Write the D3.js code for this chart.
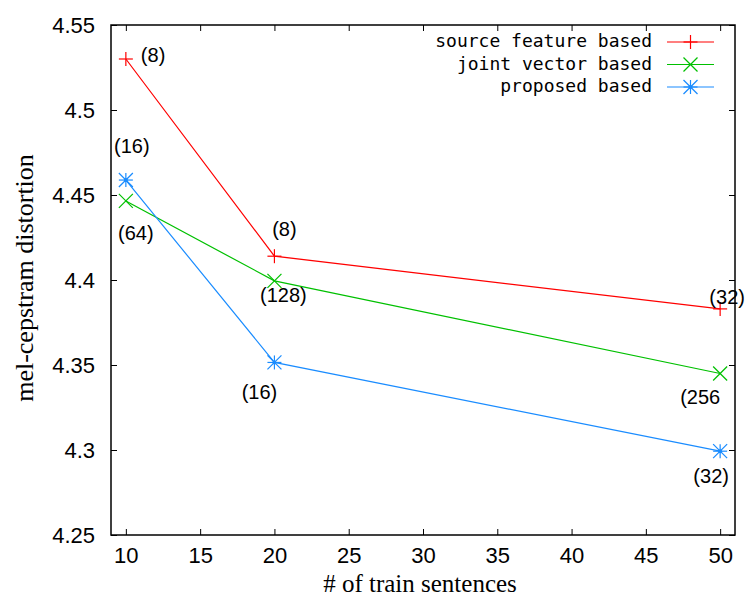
<!DOCTYPE html>
<html>
<head>
<meta charset="utf-8">
<script src="https://cdn.jsdelivr.net/npm/d3@7"></script>
<style>
body { margin: 0; background: #fff; }
.tick text { font-family: "Liberation Sans", Arial, sans-serif; font-size: 22px; fill: #000; }
.axisText { font-family: "Liberation Serif", "Times New Roman", serif; fill: #000; }
.ptLabel { font-family: "Liberation Sans", Arial, sans-serif; font-size: 20px; fill: #000; }
.legendText { font-family: "DejaVu Sans Mono", monospace; font-size: 18px; fill: #000; }
</style>
</head>
<body>
<div id="chart"></div>
<script>
// data
var sentences = [10, 20, 50];
var sourceFeature = [4.530, 4.414, 4.383];
var jointVector = [4.4465, 4.3995, 4.345];
var proposed = [4.4588, 4.3515, 4.2993];
var sourceLabels = ["(8)", "(8)", "(32)"];
var jointLabels = ["(64)", "(128)", "(256"];
var proposedLabels = ["(16)", "(16)", "(32)"];
var seriesNames = ["source feature based", "joint vector based", "proposed based"];
var xTicks = [10, 15, 20, 25, 30, 35, 40, 45, 50];
var yTicks = [4.25, 4.3, 4.35, 4.4, 4.45, 4.5, 4.55];

//define svg
var svgWidth = 750;
var svgHeight = 600;
var margin = { top: 25, right: 15, bottom: 65, left: 111 };
var chartWidth = svgWidth - margin.left - margin.right;
var chartHeight = svgHeight - margin.top - margin.bottom;

var svg = d3.select("#chart")
    .append("svg")
    .attr("width", svgWidth)
    .attr("height", svgHeight);

var chartGroup = svg.append("g")
    .attr("transform", `translate(${margin.left}, ${margin.top})`);

//scales
var xLinearScale = d3.scaleLinear().domain([9, 51]).range([0, chartWidth]);
var yLinearScale = d3.scaleLinear().domain([4.25, 4.55]).range([chartHeight, 0]);

//axes, ticks pointing inward
var bottomAxis = d3.axisBottom(xLinearScale).tickValues(xTicks).tickSize(-6).tickPadding(12).tickFormat(d3.format("d"));
var leftAxis = d3.axisLeft(yLinearScale).tickValues(yTicks).tickSize(-6).tickPadding(16).tickFormat(d => d3.format("")(+d.toFixed(2)));
var topAxis = d3.axisTop(xLinearScale).tickValues(xTicks).tickSize(-6).tickFormat("");
var rightAxis = d3.axisRight(yLinearScale).tickValues(yTicks).tickSize(-6).tickFormat("");

chartGroup.append("g").attr("transform", `translate(0, ${chartHeight})`).call(bottomAxis);
chartGroup.append("g").call(leftAxis);
chartGroup.append("g").call(topAxis).selectAll("text").remove();
chartGroup.append("g").attr("transform", `translate(${chartWidth}, 0)`).call(rightAxis).selectAll("text").remove();
chartGroup.selectAll(".domain").remove();
chartGroup.selectAll(".tick line").attr("stroke", "#000").attr("stroke-width", 1);
chartGroup.selectAll(".tick text").attr("dy", "0.36em");
chartGroup.selectAll(".tick text").filter(function () { return this.parentNode.parentNode.getAttribute("transform"); })
    .attr("dy", "0.71em");

//border
chartGroup.append("rect")
    .attr("width", chartWidth)
    .attr("height", chartHeight)
    .attr("fill", "none")
    .attr("stroke", "#000")
    .attr("stroke-width", 1.5);

//marker shapes
function drawMarker(g, type, cx, cy, color) {
    var s = 7;
    if (type === "plus" || type === "star") {
        g.append("line").attr("x1", cx - s).attr("x2", cx + s).attr("y1", cy).attr("y2", cy).attr("stroke", color);
        g.append("line").attr("x1", cx).attr("x2", cx).attr("y1", cy - s).attr("y2", cy + s).attr("stroke", color);
    }
    if (type === "cross" || type === "star") {
        g.append("line").attr("x1", cx - s).attr("x2", cx + s).attr("y1", cy - s).attr("y2", cy + s).attr("stroke", color);
        g.append("line").attr("x1", cx - s).attr("x2", cx + s).attr("y1", cy + s).attr("y2", cy - s).attr("stroke", color);
    }
    if (type === "star") {
        g.append("circle").attr("cx", cx).attr("cy", cy).attr("r", 2).attr("fill", color);
    }
}

var series = [
    { name: seriesNames[0], values: sourceFeature, labels: sourceLabels, color: "#ff0000", marker: "plus",
      offsets: [[15, 3, "start"], [10, -20, "middle"], [7, -5, "middle"]] },
    { name: seriesNames[1], values: jointVector, labels: jointLabels, color: "#00c000", marker: "cross",
      offsets: [[10, 39, "middle"], [9, 21, "middle"], [-40, 30, "start"]] },
    { name: seriesNames[2], values: proposed, labels: proposedLabels, color: "#1a8cff", marker: "star",
      offsets: [[6, -27, "middle"], [-15, 37, "middle"], [-9, 32, "middle"]] }
];

var line = d3.line()
    .x(d => xLinearScale(d[0]))
    .y(d => yLinearScale(d[1]));

series.forEach(function (s) {
    var pts = sentences.map((x, i) => [x, s.values[i]]);
    chartGroup.append("path")
        .attr("d", line(pts))
        .attr("fill", "none")
        .attr("stroke", s.color)
        .attr("stroke-width", 1.2);
    var mg = chartGroup.append("g").attr("stroke-width", 1.2);
    pts.forEach(p => drawMarker(mg, s.marker, xLinearScale(p[0]), yLinearScale(p[1]), s.color));
    pts.forEach(function (p, i) {
        chartGroup.append("text")
            .attr("class", "ptLabel")
            .attr("x", xLinearScale(p[0]) + s.offsets[i][0])
            .attr("y", yLinearScale(p[1]) + s.offsets[i][1])
            .attr("text-anchor", s.offsets[i][2])
            .text(s.labels[i]);
    });
});

//legend
var legend = svg.append("g");
series.forEach(function (s, i) {
    var ly = 42 + i * 22.5;
    legend.append("text")
        .attr("class", "legendText")
        .attr("x", 652)
        .attr("y", ly + 5)
        .attr("text-anchor", "end")
        .text(s.name);
    legend.append("line")
        .attr("x1", 667).attr("x2", 714)
        .attr("y1", ly).attr("y2", ly)
        .attr("stroke", s.color)
        .attr("stroke-width", 1.2);
    var lg = legend.append("g").attr("stroke-width", 1.2);
    drawMarker(lg, s.marker, 690.5, ly, s.color);
});

//axis labels
svg.append("text")
    .attr("class", "axisText")
    .attr("x", 420)
    .attr("y", 592)
    .attr("text-anchor", "middle")
    .style("font-size", "25px")
    .text("# of train sentences");

svg.append("text")
    .attr("class", "axisText")
    .attr("transform", "translate(33, 278) rotate(-90)")
    .attr("text-anchor", "middle")
    .style("font-size", "26px")
    .text("mel-cepstram distortion");
</script>
</body>
</html>
